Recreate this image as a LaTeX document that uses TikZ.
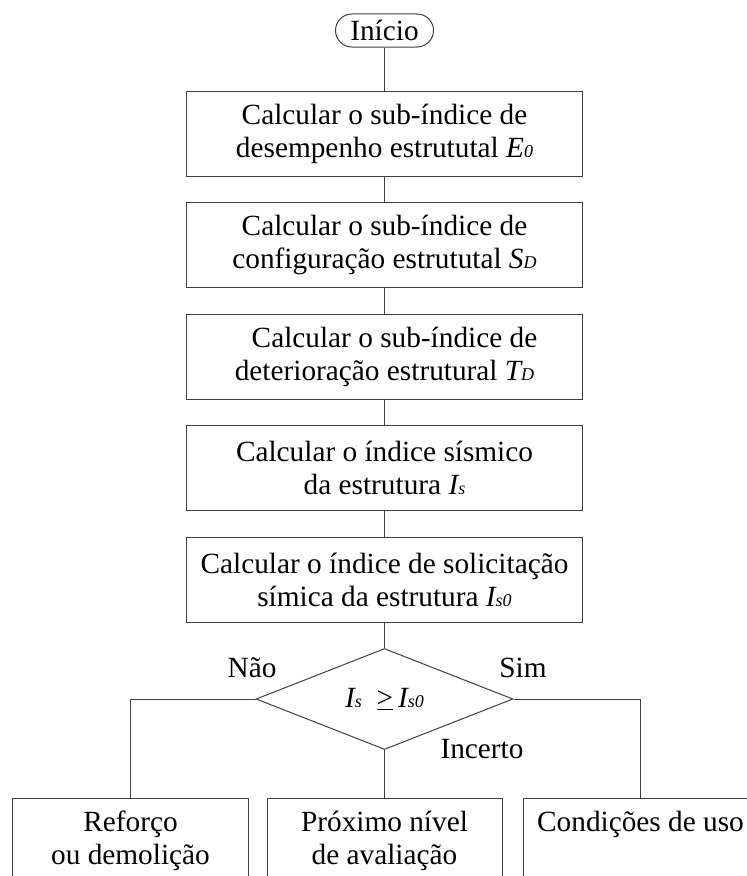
\documentclass[tikz,border=0pt]{standalone}
\usepackage{fontspec}
\setmainfont{Liberation Serif}
\usetikzlibrary{shapes.geometric}

\newcommand{\idx}[2]{\textit{#1{\fontsize{18bp}{18bp}\selectfont #2}}}

\begin{document}
\begin{tikzpicture}[x=1bp, y=-1bp,
    font=\fontsize{29.3bp}{33bp}\selectfont,
    box/.style={draw=black!75, line width=1bp, rectangle, align=center,
        minimum width=396bp, minimum height=85bp, inner sep=2bp},
    start/.style={draw=black!75, line width=1bp, rectangle, rounded corners=16.5bp,
        minimum width=98bp, minimum height=33bp, inner sep=0pt},
    decision/.style={draw=black!75, line width=1bp, diamond,
        minimum width=257bp, minimum height=101bp, inner sep=0pt},
    result/.style={box, minimum width=235bp},
    link/.style={draw=black!75, line width=1bp}]

            \useasboundingbox (0,0) rectangle (747,876);
            \clip (0,0) rectangle (747,876);

            \node (1) [start] at (384.5,30.5) {Início};
            \node (2) [box, node distance=103bp, below of=1] {Calcular o sub-índice de\\desempenho estrututal \idx{E}{0}};
            \node (3) [box, node distance=111.5bp, below of=2] {Calcular o sub-índice de\\configuração estrututal \idx{S}{D}};
            \node (4) [box, node distance=111.5bp, below of=3] {\hspace*{20bp}Calcular o sub-índice de\\deterioração estrutural \idx{T}{D}};
            \node (5) [box, node distance=111.5bp, below of=4] {Calcular o índice sísmico\\da estrutura \idx{I}{s}};
            \node (6) [box, node distance=111.5bp, below of=5] {Calcular o índice de solicitação\\símica da estrutura \idx{I}{s0}};

            \node (7) [decision, node distance=119.5bp, below of=6] {\idx{I}{s}\ \ \underline{>}\,\idx{I}{s0}};

            \node (8) [result, node distance=141.5bp, below of=7] {Próximo nível\\de avaliação};
            \node (9) [result, node distance=254bp, left of=8] {Reforço\\ou demolição};
            \node (10) [result, node distance=256bp, right of=8] {Condições de uso\\\vphantom{de avaliação}};

            \node (11) at (252,668) {Não};
            \node (12) at (523,668) {Sim};
            \node (13) at (482,749) {Incerto};

            \draw [link] (1) -- (2);
            \draw [link] (2) -- (3);
            \draw [link] (3) -- (4);
            \draw [link] (4) -- (5);
            \draw [link] (5) -- (6);
            \draw [link] (6) -- (7);

            \draw [link] (7.west) -| (9.north);
            \draw [link] (7.south) -- (8.north);
            \draw [link] (7.east) -| (10.north);
        \end{tikzpicture}
\end{document}
